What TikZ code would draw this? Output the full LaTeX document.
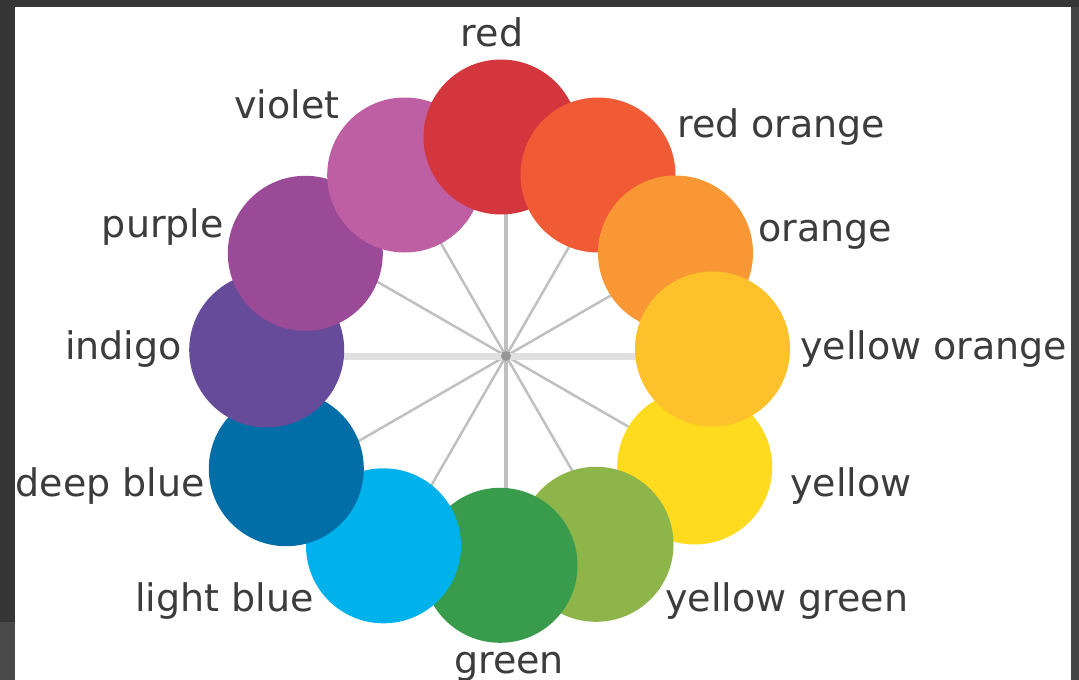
\documentclass[tikz,border=0pt]{standalone}
\usepackage{fontspec}
\setmainfont{DejaVu Sans}
\usetikzlibrary{calc}
\definecolor{frameA}{HTML}{363636}
\definecolor{frameB}{HTML}{4A4A4A}
\definecolor{frameC}{HTML}{444444}
\definecolor{labelgray}{HTML}{3C3C3C}
\definecolor{spokegray}{HTML}{C0C0C0}
\definecolor{hspokegray}{HTML}{E0E0E0}
\definecolor{hubgray}{HTML}{959595}
\definecolor{cRed}{HTML}{D3363D}
\definecolor{cRedOrange}{HTML}{F05A35}
\definecolor{cOrange}{HTML}{F89734}
\definecolor{cYellowOrange}{HTML}{FDC22B}
\definecolor{cYellow}{HTML}{FFDB1F}
\definecolor{cYellowGreen}{HTML}{8DB54A}
\definecolor{cGreen}{HTML}{389C4C}
\definecolor{cLightBlue}{HTML}{00B2EB}
\definecolor{cDeepBlue}{HTML}{026EA8}
\definecolor{cIndigo}{HTML}{674B9B}
\definecolor{cPurple}{HTML}{9A4A97}
\definecolor{cViolet}{HTML}{BE5EA3}
\begin{document}
\begin{tikzpicture}[x=1pt,y=-1pt,
  disc/.style={circle,fill=#1,minimum size=155pt,inner sep=0pt},
  lbl/.style={text=labelgray,font=\fontsize{38}{40}\selectfont,inner sep=0pt},
  spoke/.style={draw=spokegray,line width=2.5pt},
  vspoke/.style={draw=spokegray,line width=4pt},
  hspoke/.style={draw=hspokegray,line width=7pt}]
\useasboundingbox (0,0) rectangle (1079,680);
% screenshot frame
\fill[frameA] (0,0) rectangle (1079,680);
\fill[frameC] (1071,7) rectangle (1079,680);
\fill[frameB] (0,622) rectangle (15,680);
\fill[white] (15,7) rectangle (1071,680);
% spokes
\coordinate (hub) at (506,356);
\foreach \a/\n in {30/s1,60/s2,120/s4,150/s5,210/s7,240/s8,300/s10,330/s11}{
  \coordinate (\n) at ($(hub)+(\a:230)$);
  \draw[spoke] (hub) -- (\n);
}
\coordinate (s0) at ($(hub)+(0:230)$);
\coordinate (s6) at ($(hub)+(180:230)$);
\coordinate (s3) at ($(hub)+(90:230)$);
\coordinate (s9) at ($(hub)+(270:230)$);
\draw[hspoke] (s6) -- (s0);
\draw[vspoke] (s3) -- (s9);
\node[circle,fill=hubgray,minimum size=10pt,inner sep=0pt] (hubdot) at (hub) {};
% discs (stacking order as in the reference)
\node[disc=cYellow]       (yellow)      at (694.7,467)   {};
\node[disc=cYellowGreen]  (yellowgreen) at (596,544.3)   {};
\node[disc=cGreen]        (green)       at (500,565.3)   {};
\node[disc=cLightBlue]    (lightblue)   at (383.5,545.8) {};
\node[disc=cDeepBlue]     (deepblue)    at (286.3,468.7) {};
\node[disc=cIndigo]       (indigo)      at (266.7,350)   {};
\node[disc=cPurple]       (purple)      at (305.3,253.3) {};
\node[disc=cViolet]       (violet)      at (404.7,175)   {};
\node[disc=cRed]          (red)         at (501,137)     {};
\node[disc=cRedOrange]    (redorange)   at (598,175)     {};
\node[disc=cOrange]       (orange)      at (675.5,253)   {};
\node[disc=cYellowOrange] (yelloworange) at (712.5,349)  {};
% labels
\node[lbl,anchor=base]      (tred)    at (492,46)   {red};
\node[lbl,anchor=base west] (tviolet) at (234,118)  {violet};
\node[lbl,anchor=base west] (tredor)  at (677,137)  {red orange};
\node[lbl,anchor=base east] (tpurple) at (224,237)  {purple};
\node[lbl,anchor=base west] (torange) at (758,241)  {orange};
\node[lbl,anchor=base east] (tindigo) at (182,359)  {indigo};
\node[lbl,anchor=base west] (tyelor)  at (800,359)  {yellow orange};
\node[lbl,anchor=base east] (tdeep)   at (205,496)  {deep blue};
\node[lbl,anchor=base west] (tyellow) at (790,496)  {yellow};
\node[lbl,anchor=base east] (tlight)  at (314,611)  {light blue};
\node[lbl,anchor=base west] (tyelgr)  at (665,611)  {yellow green};
\node[lbl,anchor=base]      (tgreen)  at (509,673)  {green};
\end{tikzpicture}
\end{document}
